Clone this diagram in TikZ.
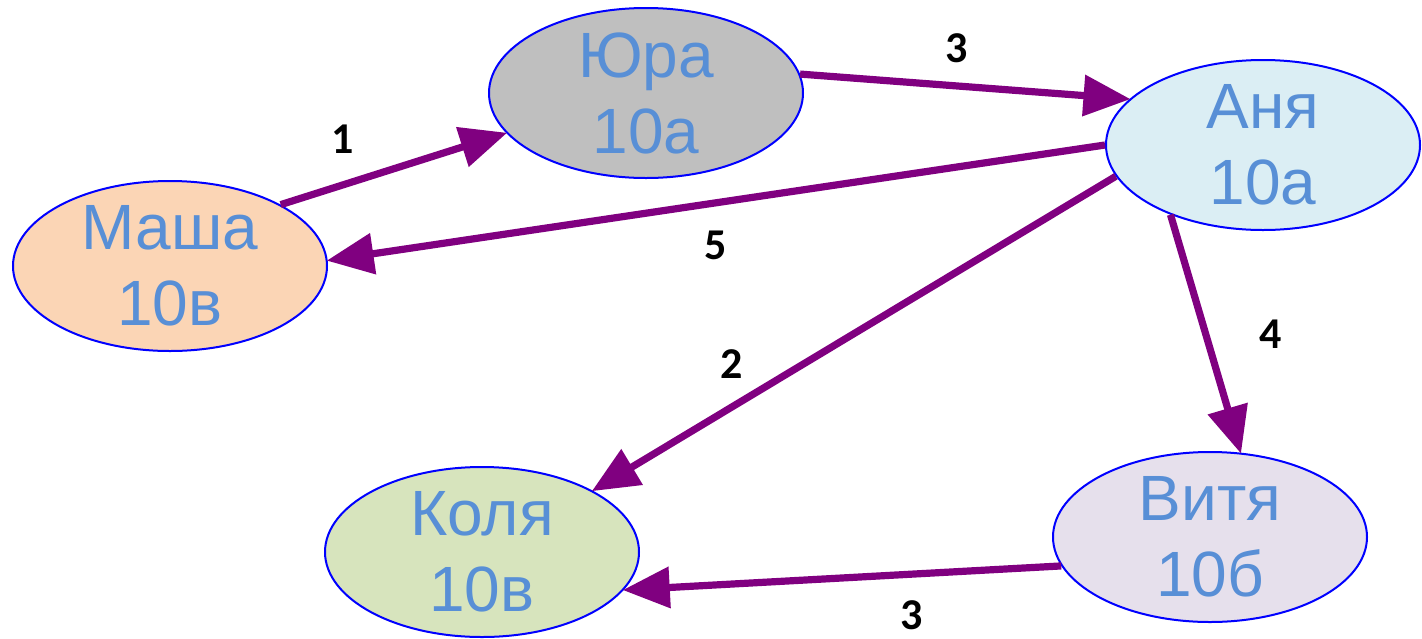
\documentclass[tikz,border=0pt]{standalone}
\usepackage{fontspec}
\setmainfont{Liberation Sans}
\newfontfamily\labelfont{Carlito}
\usetikzlibrary{arrows.meta,shapes.geometric}

\definecolor{nametext}{RGB}{88,143,214}
\definecolor{rimblue}{RGB}{0,0,255}
\definecolor{linkpurple}{RGB}{128,0,128}
\definecolor{peach}{RGB}{251,213,181}
\definecolor{greyfill}{RGB}{191,191,191}
\definecolor{paleblue}{RGB}{219,238,244}
\definecolor{palegreen}{RGB}{215,228,189}
\definecolor{palelilac}{RGB}{230,224,236}

\tikzset{
  person/.style={ellipse, draw=rimblue, line width=2pt, inner sep=0pt,
    minimum width=314pt, minimum height=170pt},
  nametag/.style={text=nametext, align=center, inner sep=0pt,
    font=\fontsize{64}{76}\selectfont},
  link/.style={draw=linkpurple, line width=7.2pt,
    -{Triangle[length=47pt,width=40pt]}, shorten >=-1pt},
  weight/.style={font=\labelfont\bfseries\fontsize{44}{44}\selectfont,
    text=black, inner sep=0pt}
}

\begin{document}
\begin{tikzpicture}[x=1pt,y=-1pt]
  \useasboundingbox (0,0) rectangle (1422,638);

  % students
  \node[person, fill=peach]      (masha) at (170,266) {};
  \node[person, fill=greyfill]   (yura)  at (646,93)  {};
  \node[person, fill=paleblue]   (anya)  at (1263,145) {};
  \node[person, fill=palegreen]  (kolya) at (482,552) {};
  \node[person, fill=palelilac]  (vitya) at (1210,537) {};

  \node[nametag] (mashaname) at (masha) {Маша\\10в};
  \node[nametag] (yuraname)  at (yura)  {Юра\\10а};
  \node[nametag] (anyaname)  at (anya)  {Аня\\10а};
  \node[nametag] (kolyaname) at (kolya) {Коля\\10в};
  \node[nametag] (vityaname) at (vitya) {Витя\\10б};

  % links between students
  \draw[link] (masha.29)  -- (yura.196);
  \draw[link] (yura.7)    -- (anya.161);
  \draw[link] (anya.180)  -- (masha.2);
  \draw[link] (anya.192)  -- (kolya.29);
  \draw[link] (anya.217)  -- (vitya.70);
  \draw[link] (vitya.191) -- (kolya.-15);

  % link weights
  \node[weight] (w1) at (343,139) {1};
  \node[weight] (w2) at (957,48)  {3};
  \node[weight] (w3) at (716,245) {5};
  \node[weight] (w4) at (732,364) {2};
  \node[weight] (w5) at (1271,334) {4};
  \node[weight] (w6) at (912,615) {3};
\end{tikzpicture}
\end{document}
